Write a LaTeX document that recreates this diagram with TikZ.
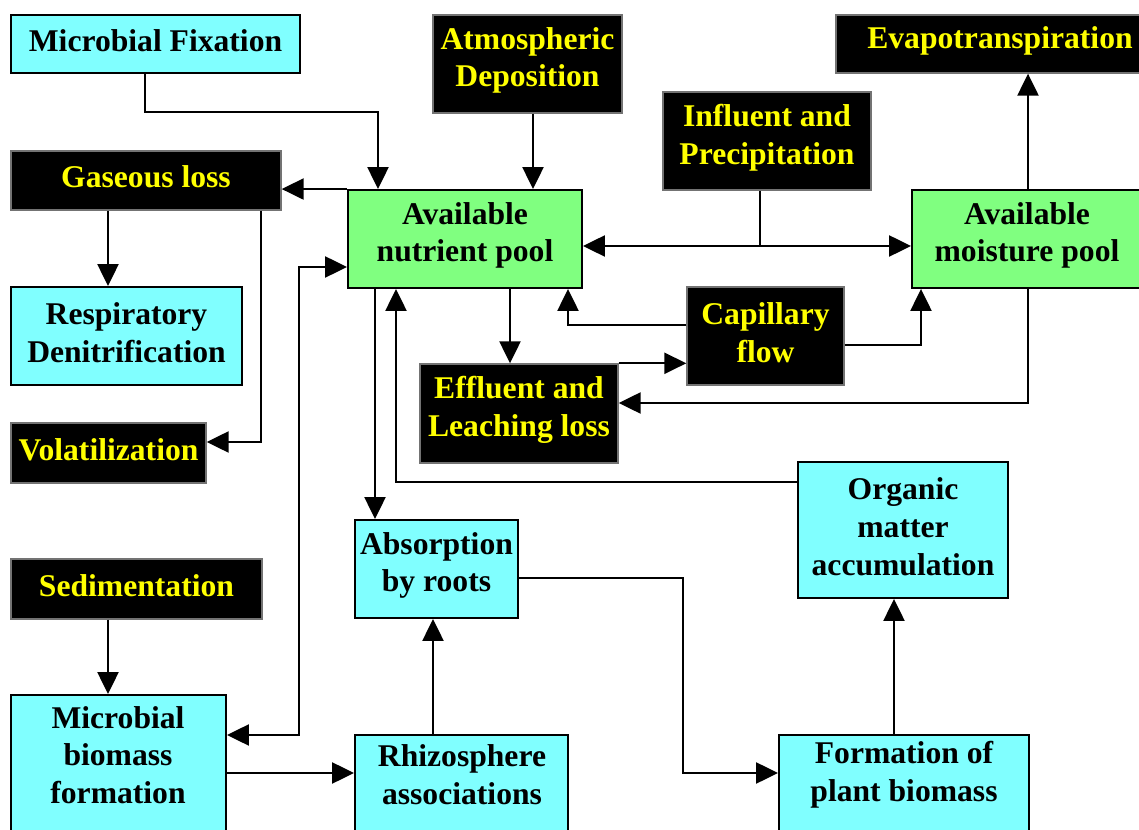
\documentclass[tikz,border=0pt]{standalone}
\usepackage{fontspec}
\setmainfont{Liberation Serif}
\usetikzlibrary{arrows.meta}
\definecolor{cyanfill}{HTML}{80FFFF}
\definecolor{greenfill}{HTML}{80FF80}
\definecolor{txtyellow}{HTML}{FFFF00}
\newcommand\bx[7]{\node[#2, minimum width={(#5-#3)*0.02cm}, minimum height={(#6-#4)*0.02cm}] (#1) at ({(#3+#5)/2},{(#4+#6)/2}) {};
  \node[#2, draw=none, fill=none, minimum width=0pt, minimum height=0pt, yshift=2pt] (#1t) at (#1.center) {#7};}
\tikzset{
  base/.style={font=\fontsize{18}{21.5}\selectfont\bfseries, align=center, inner sep=0pt},
  cbox/.style={base, fill=cyanfill, draw=black, line width=1.1pt},
  gbox/.style={base, fill=greenfill, draw=black, line width=1.1pt},
  kbox/.style={base, fill=black, draw=black!55, line width=0.8pt, text=txtyellow},
  txt/.style={base},
  arr/.style={line width=1.1pt, -{Triangle[length=12.5pt,width=12pt]}},
  darr/.style={line width=1.1pt, {Triangle[length=12.5pt,width=12pt]}-{Triangle[length=12.5pt,width=12pt]}},
  ln/.style={line width=1.1pt}
}
\begin{document}
\begin{tikzpicture}[x=0.02cm,y=-0.02cm]
\useasboundingbox[fill=white] (0,0) rectangle (1139,830);
% boxes
\bx{mf}{cbox}{11}{15}{300}{73}{Microbial Fixation}
\bx{ad}{kbox}{433}{15}{622}{113}{Atmospheric\\Deposition}
\bx{ev}{kbox}{836}{15}{1164}{73}{Evapotranspiration}
\bx{ip}{kbox}{663}{92}{871}{190}{Influent and\\Precipitation}
\bx{gl}{kbox}{11}{151}{281}{210}{Gaseous loss}
\bx{anp}{gbox}{348}{190}{582}{288}{Available\\nutrient pool}
\bx{amp}{gbox}{912}{190}{1142}{288}{Available\\moisture pool}
\bx{rd}{cbox}{11}{287}{242}{385}{Respiratory\\Denitrification}
\bx{cap}{kbox}{687}{287}{844}{385}{Capillary\\flow}
\bx{eff}{kbox}{420}{364}{618}{463}{Effluent and\\Leaching loss}
\bx{vol}{kbox}{11}{423}{206}{483}{Volatilization}
\bx{om}{cbox}{798}{462}{1008}{598}{Organic\\matter\\accumulation}
\bx{abs}{cbox}{355}{520}{518}{618}{Absorption\\by roots}
\bx{sed}{kbox}{11}{559}{262}{619}{Sedimentation}
\bx{mb}{cbox}{11}{695}{226}{860}{}
\bx{rh}{cbox}{355}{735}{568}{860}{}
\bx{fpb}{cbox}{779}{735}{1029}{860}{}
\node[txt] (mbtext) at (118,755) {Microbial\\biomass\\formation};
\node[txt] (rhtext) at (462,775) {Rhizosphere\\associations};
\node[txt] (fpbtext) at (904,775) {Formation of\\plant biomass};
% connectors
\draw[arr] (mf.south -| 145,0) |- (378,112) -- (anp.north -| 378,0);
\draw[arr] (ad.south -| 533,0) -- (anp.north -| 533,0);
\draw[arr] (anp.north west) -- (gl.east |- anp.north west);
\draw[arr] (gl.south -| 108,0) -- (rd.north -| 108,0);
\draw[arr] (gl.south -| 261,0) |- (vol.east |- 0,442);
\draw[darr] (mb.east |- 0,735) -| (299,267) -- (anp.west |- 0,267);
\draw[arr] (anp.south -| 375,0) -- (abs.north -| 375,0);
\draw[arr] (om.west |- 0,482) -| (anp.south -| 396,0);
\draw[arr] (anp.south -| 510,0) -- (eff.north -| 510,0);
\draw[arr] (eff.north east) -- (cap.west |- eff.north east);
\draw[arr] (cap.west |- 0,325) -| (anp.south -| 568,0);
\draw[arr] (cap.east |- 0,345) -| (amp.south -| 921,0);
\draw[arr] (amp.south -| 1028,0) |- (eff.east |- 0,403);
\draw[ln] (ip.south -| 760,0) -- (760,246) coordinate (j);
\draw[arr] (j) -- (anp.east |- j);
\draw[arr] (j) -- (amp.west |- j);
\draw[arr] (amp.north -| 1028,0) -- (ev.south -| 1028,0);
\draw[arr] (abs.east |- 0,578) -| (683,773) -- (fpb.west |- 0,773);
\draw[arr] (rh.north -| 433,0) -- (abs.south -| 433,0);
\draw[arr] (fpb.north -| 894,0) -- (om.south -| 894,0);
\draw[arr] (sed.south -| 108,0) -- (mb.north -| 108,0);
\draw[arr] (mb.east |- 0,773) -- (rh.west |- 0,773);
\end{tikzpicture}
\end{document}
